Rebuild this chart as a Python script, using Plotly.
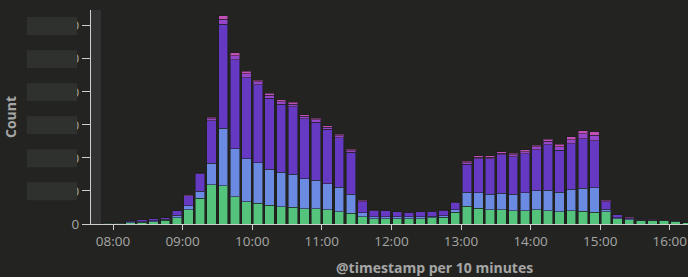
import plotly.graph_objects as go
import pandas as pd

# ---- data -------------------------------------------------------------
DAY = "2015-01-01"
bins = ["07:50", "08:00", "08:10", "08:20", "08:30", "08:40", "08:50",
        "09:00", "09:10", "09:20", "09:30", "09:40", "09:50",
        "10:00", "10:10", "10:20", "10:30", "10:40", "10:50",
        "11:00", "11:10", "11:20", "11:30", "11:40", "11:50",
        "12:00", "12:10", "12:20", "12:30", "12:40", "12:50",
        "13:00", "13:10", "13:20", "13:30", "13:40", "13:50",
        "14:00", "14:10", "14:20", "14:30", "14:40", "14:50",
        "15:00", "15:10", "15:20", "15:30", "15:40", "15:50",
        "16:00", "16:10"]

green = [8, 11, 20, 23, 35, 56, 95,
         212, 389, 590, 575, 409, 333,
         313, 284, 260, 257, 230, 231,
         212, 186, 166, 110, 80, 80,
         83, 80, 80, 91, 101, 177,
         272, 242, 212, 212, 201, 201,
         216, 201, 186, 201, 192, 177,
         186, 76, 61, 56, 56, 56,
         45, 20]
blue = [8, 8, 11, 12, 11, 15, 41,
        61, 110, 328, 873, 726, 651,
        614, 548, 520, 499, 457, 430,
        398, 369, 283, 61, 30, 30,
        23, 26, 26, 26, 24, 35,
        212, 227, 238, 253, 248, 268,
        287, 313, 298, 328, 348, 372,
        36, 20, 15, 3, 3, 3,
        3, 0]
purple = [5, 8, 15, 26, 30, 24, 61,
          151, 262, 645, 1574, 1347, 1230,
          1180, 1070, 1032, 1014, 903, 878,
          823, 746, 635, 166, 91, 97,
          80, 71, 76, 76, 86, 110,
          419, 519, 534, 579, 569, 590,
          620, 685, 631, 685, 746, 711,
          115, 41, 20, 14, 8, 12,
          8, 2]
magenta = [0, 0, 0, 0, 0, 0, 0,
           5, 9, 30, 76, 64, 58,
           43, 44, 40, 43, 39, 37,
           32, 34, 27, 16, 9, 3,
           2, 2, 2, 2, 2, 9,
           27, 25, 27, 30, 31, 37,
           43, 52, 55, 64, 76, 79,
           16, 2, 2, 4, 4, 2,
           2, 0]
pink = [0, 0, 0, 0, 0, 0, 0,
        3, 6, 21, 50, 42, 39,
        28, 29, 27, 28, 26, 24,
        22, 22, 18, 10, 6, 2,
        1, 1, 1, 1, 1, 6,
        18, 16, 18, 20, 20, 24,
        28, 34, 36, 42, 50, 53,
        10, 1, 1, 2, 2, 1,
        1, 0]

y_ticks = [0, 500, 1000, 1500, 2000, 2500, 3000]

# ---- figure -----------------------------------------------------------
BG = "#232421"
TXT = "#a6a6a6"
AX = "#cfcfcf"

BIN_MS = 10 * 60 * 1000
starts = pd.to_datetime([f"{DAY} {b}" for b in bins])
centers = starts + pd.Timedelta(minutes=5)

series = [("green", green, "#54c47c"),
          ("blue", blue, "#6b8be2"),
          ("purple", purple, "#6539c2"),
          ("magenta", magenta, "#9646c9"),
          ("pink", pink, "#c24fb6")]

fig = go.Figure()
for name, vals, col in series:
    fig.add_trace(go.Bar(
        x=centers, y=vals, name=name, width=BIN_MS * 0.81,
        marker=dict(color=col, line=dict(color="rgba(30,30,30,0.55)", width=1)),
        showlegend=False, hoverinfo="skip"))

x0 = f"{DAY} 07:41:02"
x1 = f"{DAY} 16:15:41"

shapes = [dict(type="rect", xref="x", yref="paper", x0=x0, x1=f"{DAY} 07:49:40",
               y0=0, y1=1, fillcolor="#323232", line=dict(width=0), layer="below")]
# obscured (blurred) y tick label boxes
for v in y_ticks[1:]:
    shapes.append(dict(type="rect", xref="paper", yref="y",
                       x0=-0.1075, x1=-0.0234, y0=v - 140, y1=v + 130,
                       fillcolor="#2f312f", line=dict(width=0), layer="above"))

fig.update_layout(
    width=688, height=277,
    margin=dict(l=91, r=0, t=10, b=53, autoexpand=False),
    paper_bgcolor=BG, plot_bgcolor=BG,
    barmode="stack",
    font=dict(family="Open Sans", size=13.5, color=TXT),
    shapes=shapes,
    xaxis=dict(type="date", range=[x0, x1], tick0=f"{DAY} 08:00", dtick=3600000,
               tickformat="%H:%M", ticks="outside", ticklen=5, tickcolor=AX,
               showline=True, linecolor=AX, linewidth=1, showgrid=False,
               zeroline=False, automargin=False, tickfont=dict(size=13.5, color=TXT)),
    yaxis=dict(range=[0, 3237], tickvals=y_ticks, tickformat=",",
               ticks="outside", ticklen=8, tickcolor=AX, showline=True,
               linecolor=AX, linewidth=1, showgrid=False, zeroline=False,
               automargin=False, tickfont=dict(size=13.5, color=TXT)),
    annotations=[
        dict(text="<b>@timestamp per 10 minutes</b>", xref="paper", yref="paper",
             x=0.576, y=-0.205, xanchor="center", yanchor="middle",
             showarrow=False, font=dict(size=14, color=TXT)),
        dict(text="<b>Count</b>", xref="paper", yref="paper",
             x=-0.1357, y=0.5, xanchor="center", yanchor="middle",
             textangle=-90, showarrow=False, font=dict(size=14, color=TXT)),
    ],
)

fig.write_html("out.html",
               config={"displayModeBar": False},
               post_script="document.body.style.margin='0';"
                           "document.body.style.background='#232421';")
